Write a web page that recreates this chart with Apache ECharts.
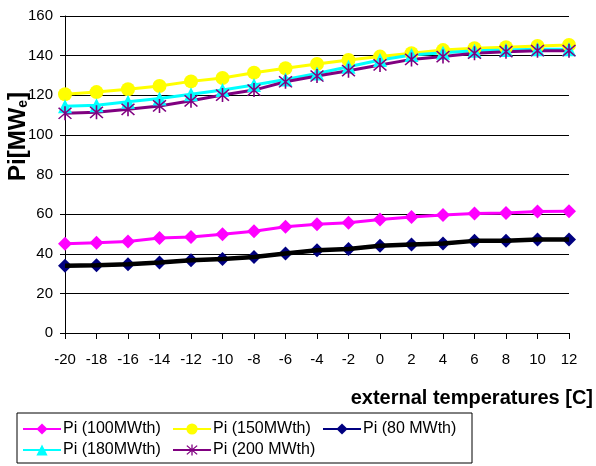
<!DOCTYPE html>
<html>
<head>
<meta charset="utf-8">
<script src="https://cdn.jsdelivr.net/npm/echarts@6/dist/echarts.min.js"></script>
<style>html,body{margin:0;padding:0;background:#fff;}#c{width:596px;height:466px;}</style>
</head>
<body>
<div id="c"></div>
<script>
var temps = [-20,-18,-16,-14,-12,-10,-8,-6,-4,-2,0,2,4,6,8,10,12];
var pi100 = [45,45.5,46.2,48,48.5,49.9,51.4,53.6,54.9,55.6,57.3,58.6,59.6,60.3,60.6,61.3,61.5];
var pi150 = [120.5,121.6,123,124.7,127,128.7,131.4,133.6,135.8,137.8,139.5,141.2,142.8,143.7,144.2,144.9,145.4];
var pi80  = [33.9,34.2,34.7,35.6,36.7,37.4,38.4,40.1,41.8,42.4,44,44.7,45.2,46.5,46.5,47.2,47.2];
var pi180 = [114.5,115,116.7,118.4,120.5,122.6,125.2,128,131,134.4,137.8,140.3,141.5,142.5,142.8,143.2,143.2];
var pi200 = [110.9,111.4,112.9,114.6,117.2,120.1,122.6,126.8,129.7,132.4,135.3,138.1,139.5,141.2,142,142.5,142.5];
var yTicks = [0,20,40,60,80,100,120,140,160];
var seriesNames = ['Pi (100MWth)','Pi (150MWth)','Pi (80 MWth)','Pi (180MWth)','Pi (200 MWth)'];

function pairs(v){ return temps.map(function(t,i){ return [t, v[i]]; }); }
var asterisk = 'path://M-1,-10L1,-10L1,10L-1,10Z M-7.3,-8.7L8.7,7.3L7.3,8.7L-8.7,-7.3Z M7.3,-8.7L8.7,-7.3L-7.3,8.7L-8.7,7.3Z';
var font = 'Liberation Sans, Arial, sans-serif';

var chart = echarts.init(document.getElementById('c'), null, {renderer:'canvas'});
chart.setOption({
  animation:false,
  backgroundColor:'#fff',
  grid:{left:65,right:27,top:16,bottom:133,containLabel:false},
  xAxis:{
    type:'value', min:-20, max:12, interval:2,
    axisLine:{show:true,onZero:false,lineStyle:{color:'#000',width:1}},
    axisTick:{show:true,length:6,lineStyle:{color:'#000'}},
    axisLabel:{color:'#000',fontSize:15,fontFamily:font,margin:19},
    splitLine:{show:false}
  },
  yAxis:{
    type:'value', min:yTicks[0], max:yTicks[yTicks.length-1], interval:20,
    axisLine:{show:true,onZero:false,lineStyle:{color:'#000',width:1}},
    axisTick:{show:true,length:5,lineStyle:{color:'#000'}},
    axisLabel:{color:'#000',fontSize:15,fontFamily:font,margin:12},
    splitLine:{show:true,lineStyle:{color:'#000',width:1}}
  },
  legend:{
    left:17, top:413, width:470,
    orient:'horizontal',
    data:seriesNames,
    itemWidth:38, itemHeight:14, itemGap:5,
    padding:[8,5,5,5],
    borderColor:'#000', borderWidth:1,
    textStyle:{color:'#000',fontSize:16,fontFamily:font,width:104,lineHeight:15,padding:[0,0,0,-3]}
  },
  graphic:[
    {type:'text', right:3, top:388,
     style:{text:'external temperatures [C]', fill:'#000', font:'bold 20px '+font}},
    {type:'text', x:18, y:181, rotation:Math.PI/2,
     style:{text:'Pi[MW{s|e}]', fill:'#000', font:'bold 24px '+font, textVerticalAlign:'middle', textAlign:'left',
       rich:{s:{fontSize:14,fontWeight:'bold',fontFamily:font,padding:[10,0,0,0]}}}}
  ],
  series:[
    {name:seriesNames[0],type:'line',data:pairs(pi100),color:'#ff00ff',symbol:'diamond',symbolSize:14,
     lineStyle:{width:3,color:'#ff00ff'},itemStyle:{color:'#ff00ff'}},
    {name:seriesNames[1],type:'line',data:pairs(pi150),color:'#ffff00',symbol:'circle',symbolSize:14,
     lineStyle:{width:3,color:'#ffff00'},itemStyle:{color:'#ffff00'}},
    {name:seriesNames[2],type:'line',data:pairs(pi80),color:'#000080',symbol:'diamond',symbolSize:14,
     lineStyle:{width:3,color:'#000080'},itemStyle:{color:'#000080'}},
    {name:seriesNames[3],type:'line',data:pairs(pi180),color:'#00ffff',symbol:'triangle',symbolSize:14,
     lineStyle:{width:3,color:'#00ffff'},itemStyle:{color:'#00ffff'}},
    {name:seriesNames[4],type:'line',data:pairs(pi200),color:'#800080',symbol:asterisk,symbolSize:14,
     lineStyle:{width:3,color:'#800080'},itemStyle:{color:'#800080'}},
    {name:'trend80',type:'line',data:pairs(pi80),symbol:'none',
     lineStyle:{width:4.5,color:'#000'},z:5}
  ]
});
</script>
</body>
</html>
